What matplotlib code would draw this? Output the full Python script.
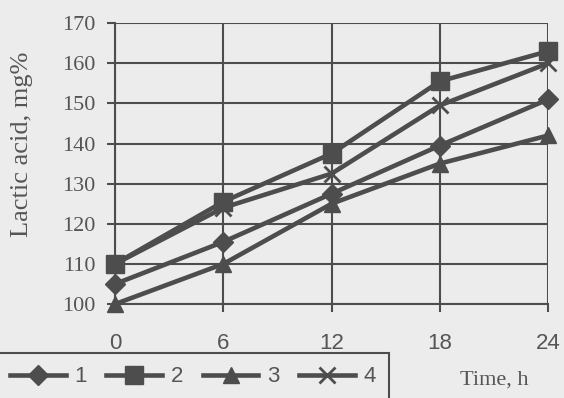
import matplotlib.pyplot as plt

# data
time_h = [0, 6, 12, 18, 24]
serie_1 = [105, 115.5, 127.5, 139.5, 151]
serie_2 = [110, 125.5, 137.5, 155.5, 163]
serie_3 = [100, 110, 125, 135, 142]
serie_4 = [110, 124, 132.5, 149.5, 160]
noms = ["1", "2", "3", "4"]
marqueurs = ["D", "s", "^", "x"]

fond = "#ececec"
gris = "#4d4d4d"
texte = "#555555"

fig = plt.figure(figsize=(5.64, 3.98), dpi=100, facecolor=fond)
ax = fig.add_axes([0.204, 0.236, 0.768, 0.706], facecolor=fond)

tailles = [10, 13, 12, 12]
for valeurs, nom, m, t in zip([serie_1, serie_2, serie_3, serie_4], noms, marqueurs, tailles):
    ax.plot(time_h, valeurs, color=gris, lw=3.3, marker=m, markersize=t,
            markeredgewidth=2 if m == "x" else 1, label=nom, clip_on=False, zorder=3)

ax.set_xlim(0, 24)
ax.set_ylim(100, 170)
ax.set_xticks(time_h)
ax.set_yticks(range(100, 171, 10))
ax.grid(True, color=gris, lw=1.5)
for s in ax.spines.values():
    s.set_visible(False)
for cote in ["left", "bottom"]:
    ax.spines[cote].set_visible(True)
    ax.spines[cote].set_color(gris)
    ax.spines[cote].set_linewidth(1.5)
ax.tick_params(axis="both", direction="out", length=6, width=1.5, color=gris, labelcolor=texte)
ax.tick_params(axis="x", pad=15)
ax.tick_params(axis="y", pad=8)

for lab in ax.get_yticklabels():
    lab.set_fontfamily("Liberation Serif")
    lab.set_fontsize(16)
for lab in ax.get_xticklabels():
    lab.set_fontfamily("Liberation Sans")
    lab.set_fontsize(16)

ax.set_ylabel("Lactic acid, mg%", family="Liberation Serif", fontsize=19, color=texte)
ax.yaxis.set_label_coords(-0.19, 0.57)
fig.text(0.815, 0.035, "Time, h", family="Liberation Serif", fontsize=16, color=texte)

leg = fig.legend(loc="upper left", bbox_to_anchor=(-0.006, 0.113), ncol=4, frameon=True,
                 fancybox=False, edgecolor=gris, facecolor=fond, framealpha=1,
                 prop={"family": "Liberation Sans", "size": 16}, handlelength=2.5,
                 handletextpad=0.4, columnspacing=0.88, borderpad=0.6, borderaxespad=0)
leg.get_frame().set_linewidth(1.5)
for t in leg.get_texts():
    t.set_color(texte)

fig.savefig("out.png", dpi=100, facecolor=fond)
